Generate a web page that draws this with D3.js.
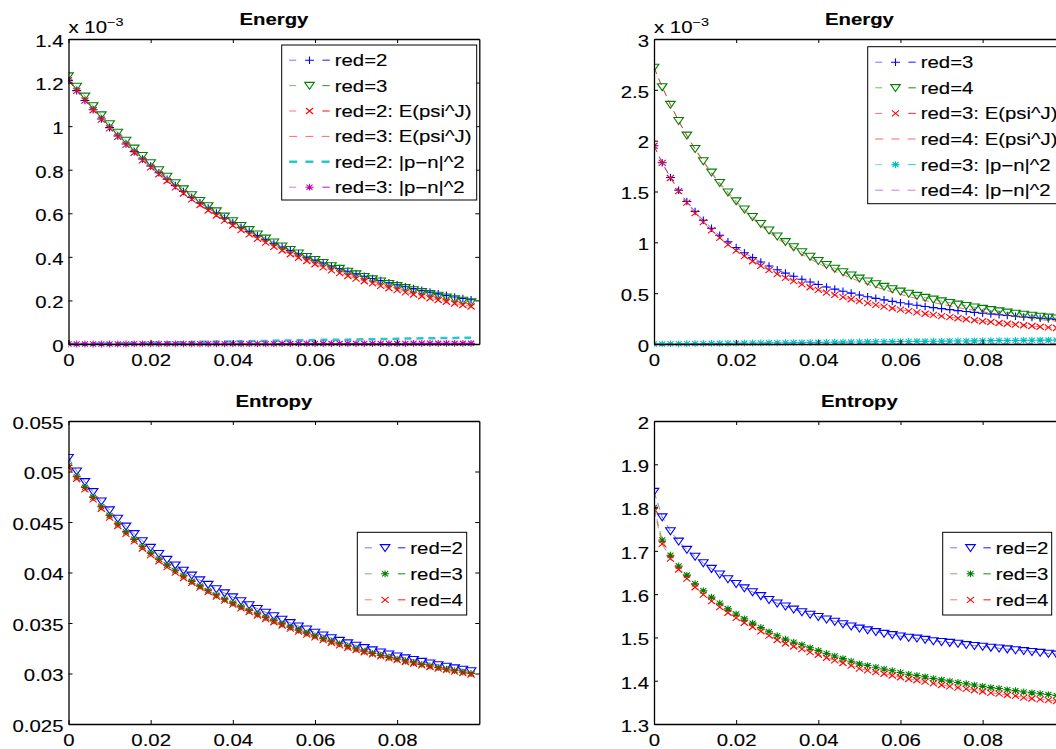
<!DOCTYPE html>
<html><head><meta charset="utf-8">
<script src="https://cdn.jsdelivr.net/npm/d3@7"></script>
<style>
body{margin:0;background:#fff}
svg{display:block}
text{font-family:"Liberation Sans",Arial,Helvetica,sans-serif;fill:#000;stroke:#000;stroke-width:0.12px}
</style>
</head><body>
<svg id="chart" width="1056" height="749"></svg>
<script>
// ---------- data ----------
const xValues = [0.000,0.002,0.004,0.006,0.008,0.010,0.012,0.014,0.016,0.018,0.020,0.022,0.024,0.026,0.028,0.030,0.032,0.034,0.036,0.038,0.040,0.042,0.044,0.046,0.048,0.050,0.052,0.054,0.056,0.058,0.060,0.062,0.064,0.066,0.068,0.070,0.072,0.074,0.076,0.078,0.080,0.082,0.084,0.086,0.088,0.090,0.092,0.094,0.096,0.098];
const xTicks = [0, 0.02, 0.04, 0.06, 0.08];
const xTickLabels = ["0", "0.02", "0.04", "0.06", "0.08"];

// Top-left: Energy (x 10^-3)
const tlRed2 = [1.210,1.163,1.118,1.075,1.033,0.993,0.955,0.918,0.883,0.849,0.817,0.786,0.756,0.727,0.700,0.673,0.648,0.624,0.601,0.578,0.557,0.536,0.517,0.498,0.480,0.462,0.445,0.429,0.414,0.399,0.385,0.372,0.358,0.346,0.334,0.322,0.311,0.301,0.291,0.281,0.272,0.263,0.254,0.246,0.238,0.230,0.223,0.216,0.209,0.203];
const tlRed3 = [1.230,1.182,1.137,1.093,1.051,1.010,0.971,0.934,0.898,0.864,0.831,0.799,0.769,0.739,0.711,0.684,0.658,0.634,0.610,0.586,0.565,0.543,0.524,0.504,0.485,0.467,0.449,0.433,0.417,0.401,0.387,0.373,0.358,0.346,0.333,0.321,0.309,0.298,0.288,0.277,0.267,0.258,0.248,0.240,0.231,0.223,0.215,0.207,0.200,0.193];
const tlRed2E = [1.210,1.162,1.117,1.073,1.030,0.990,0.951,0.914,0.878,0.843,0.811,0.779,0.748,0.719,0.691,0.664,0.638,0.613,0.590,0.566,0.544,0.523,0.503,0.483,0.465,0.446,0.429,0.412,0.396,0.381,0.366,0.352,0.338,0.325,0.312,0.300,0.288,0.278,0.267,0.256,0.247,0.237,0.227,0.219,0.210,0.202,0.194,0.186,0.179,0.172];
const tlRed3E = [1.220,1.172,1.127,1.083,1.041,1.000,0.961,0.924,0.888,0.854,0.821,0.789,0.759,0.729,0.701,0.674,0.648,0.624,0.600,0.576,0.555,0.533,0.514,0.494,0.475,0.457,0.439,0.423,0.407,0.391,0.377,0.363,0.348,0.336,0.323,0.311,0.299,0.288,0.278,0.267,0.257,0.248,0.238,0.230,0.221,0.213,0.205,0.197,0.190,0.183];
const tlRed2PN = [0.000,0.001,0.001,0.002,0.002,0.003,0.004,0.004,0.005,0.005,0.006,0.007,0.007,0.008,0.008,0.009,0.010,0.010,0.011,0.011,0.012,0.013,0.013,0.014,0.014,0.015,0.016,0.016,0.017,0.017,0.018,0.019,0.019,0.020,0.020,0.021,0.022,0.022,0.023,0.023,0.024,0.025,0.025,0.026,0.026,0.027,0.028,0.028,0.029,0.029];
const tlRed3PN = [0.000,0.000,0.000,0.000,0.000,0.000,0.000,0.000,0.001,0.001,0.001,0.001,0.001,0.001,0.001,0.001,0.001,0.001,0.001,0.001,0.001,0.001,0.001,0.001,0.001,0.001,0.002,0.002,0.002,0.002,0.002,0.002,0.002,0.002,0.002,0.002,0.002,0.002,0.002,0.002,0.002,0.002,0.003,0.003,0.003,0.003,0.003,0.003,0.003,0.003];
const tlYTicks = [0, 0.2, 0.4, 0.6, 0.8, 1, 1.2, 1.4];
const tlLegend = ["red=2", "red=3", "red=2: E(psi^J)", "red=3: E(psi^J)", "red=2: |p\u2212n|^2", "red=3: |p\u2212n|^2"];

// Top-right: Energy (x 10^-3)
const trRed3 = [1.950,1.783,1.638,1.512,1.401,1.303,1.217,1.139,1.069,1.006,0.949,0.897,0.850,0.807,0.767,0.731,0.697,0.666,0.637,0.610,0.585,0.561,0.540,0.519,0.500,0.482,0.465,0.449,0.434,0.419,0.406,0.393,0.381,0.369,0.358,0.348,0.338,0.328,0.319,0.311,0.302,0.295,0.287,0.280,0.273,0.266,0.260,0.254,0.248,0.242];
const trRed4 = [2.720,2.529,2.355,2.197,2.053,1.921,1.800,1.689,1.587,1.493,1.406,1.326,1.252,1.183,1.119,1.060,1.005,0.954,0.906,0.861,0.819,0.780,0.743,0.709,0.676,0.646,0.617,0.590,0.565,0.541,0.518,0.497,0.476,0.457,0.439,0.422,0.406,0.390,0.376,0.362,0.348,0.336,0.324,0.312,0.301,0.291,0.281,0.271,0.262,0.254];
const trRed3E = [1.950,1.781,1.633,1.504,1.390,1.288,1.199,1.117,1.044,0.978,0.918,0.864,0.814,0.768,0.726,0.688,0.651,0.618,0.587,0.558,0.532,0.506,0.483,0.461,0.440,0.421,0.402,0.385,0.368,0.352,0.338,0.324,0.311,0.298,0.286,0.274,0.264,0.253,0.243,0.234,0.224,0.216,0.207,0.199,0.192,0.184,0.177,0.170,0.164,0.157];
const trRed4E = [2.720,2.528,2.353,2.193,2.047,1.914,1.791,1.678,1.574,1.479,1.390,1.309,1.234,1.164,1.099,1.038,0.982,0.931,0.882,0.836,0.793,0.754,0.716,0.682,0.648,0.618,0.588,0.561,0.536,0.511,0.488,0.467,0.446,0.427,0.409,0.391,0.375,0.359,0.345,0.331,0.317,0.305,0.293,0.281,0.270,0.260,0.250,0.240,0.232,0.224];
const trRed3PN = [0.000,0.001,0.002,0.002,0.003,0.004,0.005,0.006,0.006,0.007,0.008,0.009,0.010,0.010,0.011,0.012,0.013,0.014,0.014,0.015,0.016,0.017,0.018,0.018,0.019,0.020,0.021,0.022,0.022,0.023,0.024,0.025,0.026,0.026,0.027,0.028,0.029,0.030,0.030,0.031,0.032,0.033,0.034,0.034,0.035,0.036,0.037,0.038,0.038,0.039];
const trRed4PN = [0.000,0.000,0.000,0.000,0.000,0.000,0.001,0.001,0.001,0.001,0.001,0.001,0.001,0.001,0.001,0.001,0.001,0.001,0.001,0.002,0.002,0.002,0.002,0.002,0.002,0.002,0.002,0.002,0.002,0.002,0.003,0.003,0.003,0.003,0.003,0.003,0.003,0.003,0.003,0.003,0.003,0.003,0.004,0.004,0.004,0.004,0.004,0.004,0.004,0.004];
const trYTicks = [0, 0.5, 1, 1.5, 2, 2.5, 3];
const trLegend = ["red=3", "red=4", "red=3: E(psi^J)", "red=4: E(psi^J)", "red=3: |p\u2212n|^2", "red=4: |p\u2212n|^2"];

// Bottom-left: Entropy
const blRed2 = [0.05137,0.05003,0.04898,0.04799,0.04706,0.04618,0.04535,0.04457,0.04383,0.04313,0.04247,0.04186,0.04128,0.04073,0.04021,0.03972,0.03925,0.03880,0.03837,0.03796,0.03757,0.03718,0.03679,0.03642,0.03605,0.03570,0.03535,0.03502,0.03469,0.03438,0.03407,0.03379,0.03352,0.03326,0.03301,0.03277,0.03254,0.03232,0.03211,0.03191,0.03172,0.03153,0.03136,0.03118,0.03102,0.03085,0.03070,0.03054,0.03040,0.03025];
const blRed3 = [0.05060,0.04948,0.04843,0.04744,0.04651,0.04563,0.04480,0.04402,0.04328,0.04258,0.04192,0.04131,0.04073,0.04018,0.03966,0.03912,0.03865,0.03820,0.03777,0.03736,0.03697,0.03660,0.03624,0.03589,0.03555,0.03522,0.03490,0.03459,0.03429,0.03400,0.03372,0.03345,0.03319,0.03294,0.03270,0.03242,0.03220,0.03199,0.03179,0.03160,0.03142,0.03124,0.03107,0.03090,0.03074,0.03058,0.03043,0.03028,0.03014,0.03000];
const blRed4 = [0.05040,0.04928,0.04823,0.04724,0.04631,0.04543,0.04460,0.04382,0.04308,0.04238,0.04172,0.04111,0.04053,0.03998,0.03946,0.03897,0.03850,0.03805,0.03762,0.03721,0.03682,0.03645,0.03609,0.03574,0.03540,0.03507,0.03475,0.03444,0.03414,0.03385,0.03357,0.03330,0.03304,0.03279,0.03255,0.03232,0.03210,0.03189,0.03169,0.03150,0.03132,0.03114,0.03097,0.03080,0.03064,0.03048,0.03033,0.03018,0.03004,0.02990];
const blYTicks = [0.025, 0.03, 0.035, 0.04, 0.045, 0.05, 0.055];
const blYTickLabels = ["0.025", "0.03", "0.035", "0.04", "0.045", "0.05", "0.055"];

// Bottom-right: Entropy
const brRed2 = [1.837,1.778,1.746,1.722,1.703,1.687,1.672,1.659,1.646,1.635,1.624,1.614,1.605,1.596,1.587,1.579,1.572,1.565,1.559,1.553,1.548,1.542,1.537,1.531,1.526,1.521,1.517,1.513,1.509,1.506,1.503,1.500,1.498,1.495,1.492,1.490,1.488,1.486,1.483,1.481,1.479,1.477,1.475,1.473,1.471,1.469,1.467,1.465,1.463,1.461];
const brRed3 = [1.800,1.725,1.690,1.665,1.644,1.624,1.608,1.593,1.579,1.566,1.554,1.543,1.533,1.523,1.513,1.504,1.496,1.489,1.483,1.476,1.470,1.463,1.457,1.451,1.445,1.439,1.435,1.431,1.427,1.423,1.419,1.415,1.412,1.409,1.405,1.402,1.399,1.396,1.393,1.390,1.387,1.384,1.382,1.379,1.377,1.374,1.372,1.370,1.368,1.366];
const brRed4 = [1.795,1.716,1.682,1.657,1.636,1.616,1.599,1.584,1.570,1.557,1.545,1.534,1.524,1.514,1.504,1.494,1.486,1.479,1.473,1.466,1.460,1.453,1.447,1.441,1.435,1.428,1.424,1.420,1.416,1.412,1.408,1.404,1.401,1.398,1.394,1.390,1.387,1.384,1.381,1.378,1.375,1.372,1.370,1.367,1.365,1.361,1.359,1.357,1.355,1.353];
const brYTicks = [1.3, 1.4, 1.5, 1.6, 1.7, 1.8, 1.9, 2];
const entropyLegend = ["red=2", "red=3", "red=4"];

// ---------- styling ----------
const C = {blue:"#0000ff", green:"#008000", red:"#ff0000", cyan:"#00bfbf", magenta:"#bf00bf"};
const FONT = 16.3, SX = 1.25;

const svg = d3.select("#chart");

function stretchedText(g, x, y, str, anchor, opts = {}) {
  const t = g.append("text")
    .attr("transform", `translate(${x},${y}) scale(${SX},1)`)
    .attr("text-anchor", anchor)
    .style("font-size", (opts.size || FONT) + "px")
    .style("font-weight", opts.bold ? "bold" : "normal")
    .text(str);
  return t;
}

function markerPath(type, cx, cy) {
  switch (type) {
    case "plus": return `M${cx-4.5},${cy}H${cx+4.5}M${cx},${cy-3.8}V${cy+3.8}`;
    case "tri": return `M${cx-4.8},${cy-3.2}L${cx+4.8},${cy-3.2}L${cx},${cy+3.8}Z`;
    case "x": return `M${cx-3.6},${cy-3}L${cx+3.6},${cy+3}M${cx-3.6},${cy+3}L${cx+3.6},${cy-3}`;
    case "star": return `M${cx-4},${cy}H${cx+4}M${cx},${cy-3.4}V${cy+3.4}M${cx-3},${cy-2.6}L${cx+3},${cy+2.6}M${cx-3},${cy+2.6}L${cx+3},${cy-2.6}`;
  }
  return "";
}

function drawPanel(p) {
  const g = svg.append("g");
  const x = d3.scaleLinear().domain([0, 0.1]).range([p.x0, p.x1]);
  const y = d3.scaleLinear().domain(p.yDomain).range([p.y1, p.y0]);

  const clipId = "clip" + p.id;
  svg.append("clipPath").attr("id", clipId).append("rect")
    .attr("x", p.x0).attr("y", p.y0 - 6).attr("width", p.x1 - p.x0).attr("height", p.y1 - p.y0 + 12);

  const plot = g.append("g").attr("clip-path", `url(#${clipId})`);
  const line = d3.line().x((d, i) => x(xValues[i])).y(d => y(d));

  p.series.forEach(s => {
    plot.append("path").datum(s.values)
      .attr("d", line)
      .attr("fill", "none")
      .attr("stroke", s.color)
      .attr("stroke-width", s.width || 1)
      .attr("stroke-opacity", s.lineOpacity || 0.55)
      .attr("stroke-dasharray", "7,5");
    if (s.marker) {
      plot.append("g").selectAll("path").data(s.values).join("path")
        .attr("d", (d, i) => markerPath(s.marker, x(xValues[i]), y(d)))
        .attr("fill", "none")
        .attr("stroke", s.color)
        .attr("stroke-width", 1.1);
    }
  });

  // axes (MATLAB style box with inward ticks)
  const axB = g.append("g").attr("transform", `translate(0,${p.y1})`)
    .call(d3.axisBottom(x).tickValues(xTicks).tickSize(-4).tickSizeOuter(0).tickPadding(10).tickFormat((d, i) => xTickLabels[i]));
  const axT = g.append("g").attr("transform", `translate(0,${p.y0})`)
    .call(d3.axisTop(x).tickValues(xTicks).tickSize(-4).tickSizeOuter(0).tickFormat(""));
  const axL = g.append("g").attr("transform", `translate(${p.x0},0)`)
    .call(d3.axisLeft(y).tickValues(p.yTicks).tickSize(-4).tickSizeOuter(0).tickPadding(6).tickFormat((d, i) => p.yLabels[i]));
  const axR = g.append("g").attr("transform", `translate(${p.x1},0)`)
    .call(d3.axisRight(y).tickValues(p.yTicks).tickSize(-4).tickSizeOuter(0).tickFormat(""));
  [axB, axT, axL, axR].forEach(a => {
    a.select(".domain").attr("stroke", "#000").attr("stroke-width", 1.3);
    a.selectAll(".tick line").attr("stroke", "#000").attr("stroke-width", 1);
  });
  axB.selectAll(".tick text")
    .attr("y", null).attr("dy", null)
    .attr("transform", `translate(0,21.5) scale(${SX},1)`)
    .style("font-size", FONT + "px").style("font-family", "'Liberation Sans',Arial,sans-serif").attr("fill", "#000");
  axL.selectAll(".tick text")
    .attr("x", null).attr("dy", null)
    .attr("transform", `translate(-5,7.3) scale(${SX},1)`)
    .style("font-size", FONT + "px").style("font-family", "'Liberation Sans',Arial,sans-serif").attr("fill", "#000");

  // title
  stretchedText(g, (p.x0 + p.x1) / 2, p.titleY, p.title, "middle", {bold: true});

  // exponent label
  if (p.exponent) {
    const t = stretchedText(g, p.x0, p.y0 - 5.7, "x 10", "start");
    t.append("tspan").attr("dy", -7.5).style("font-size", "11.5px").text(p.exponent);
  }

  // legend
  const L = p.legend;
  const lg = g.append("g");
  lg.append("rect").attr("x", L.x).attr("y", L.y).attr("width", L.w).attr("height", L.h)
    .attr("fill", "#fff").attr("stroke", "#000").attr("stroke-width", 1);
  p.series.forEach((s, i) => {
    const cy = L.y + L.first + i * L.gap;
    lg.append("line").attr("x1", L.x + 7.5).attr("x2", L.x + 48).attr("y1", cy).attr("y2", cy)
      .attr("stroke", s.color).attr("stroke-width", s.width || 1)
      .attr("stroke-opacity", s.lineOpacity || 0.55)
      .attr("stroke-dasharray", s.marker ? "7,26.5" : "8,8.2");
    if (s.marker) {
      lg.append("line").attr("x1", L.x + 40.5).attr("x2", L.x + 48).attr("y1", cy).attr("y2", cy)
        .attr("stroke", s.color).attr("stroke-width", s.width || 1).attr("stroke-opacity", s.lineOpacity || 0.55);
      lg.append("path").attr("d", markerPath(s.marker, L.x + 27.8, cy))
        .attr("fill", "none").attr("stroke", s.color).attr("stroke-width", 1.1);
    }
    stretchedText(lg, L.x + 53, cy + 5.9, p.legendLabels[i], "start");
  });
}

const LX0 = 68.5, LX1 = 479.3, RX0 = 654, RX1 = 1064.8;
const TY0 = 39, TY1 = 344, BY0 = 421, BY1 = 724;

drawPanel({
  id: "tl", x0: LX0, x1: LX1, y0: TY0, y1: TY1, yDomain: [0, 1.4],
  yTicks: tlYTicks, yLabels: tlYTicks.map(String), title: "Energy", titleY: 24.5, exponent: "\u22123",
  series: [
    {values: tlRed2, color: C.blue, marker: "plus"},
    {values: tlRed3, color: C.green, marker: "tri"},
    {values: tlRed2E, color: C.red, marker: "x"},
    {values: tlRed3E, color: C.red, lineOpacity: 0.6},
    {values: tlRed2PN, color: C.cyan, width: 2.5, lineOpacity: 0.85},
    {values: tlRed3PN, color: C.magenta, marker: "star"}
  ],
  legendLabels: tlLegend,
  legend: {x: 281.7, y: 45, w: 195, h: 155, first: 15.2, gap: 25.4}
});

drawPanel({
  id: "tr", x0: RX0, x1: RX1, y0: TY0, y1: TY1, yDomain: [0, 3],
  yTicks: trYTicks, yLabels: trYTicks.map(String), title: "Energy", titleY: 24.5, exponent: "\u22123",
  series: [
    {values: trRed3, color: C.blue, marker: "plus"},
    {values: trRed4, color: C.green, marker: "tri"},
    {values: trRed3E, color: C.red, marker: "x"},
    {values: trRed4E, color: C.red, lineOpacity: 0.6},
    {values: trRed3PN, color: C.cyan, marker: "star"},
    {values: trRed4PN, color: C.magenta}
  ],
  legendLabels: trLegend,
  legend: {x: 867.7, y: 46.7, w: 200, h: 157, first: 15.5, gap: 25.6}
});

drawPanel({
  id: "bl", x0: LX0, x1: LX1, y0: BY0, y1: BY1, yDomain: [0.025, 0.055],
  yTicks: blYTicks, yLabels: blYTickLabels, title: "Entropy", titleY: 406.7,
  series: [
    {values: blRed2, color: C.blue, marker: "tri"},
    {values: blRed3, color: C.green, marker: "star"},
    {values: blRed4, color: C.red, marker: "x"}
  ],
  legendLabels: entropyLegend,
  legend: {x: 357.3, y: 532.3, w: 109.4, h: 82.7, first: 15.5, gap: 26}
});

drawPanel({
  id: "br", x0: RX0, x1: RX1, y0: BY0, y1: BY1, yDomain: [1.3, 2],
  yTicks: brYTicks, yLabels: brYTicks.map(String), title: "Entropy", titleY: 406.7,
  series: [
    {values: brRed2, color: C.blue, marker: "tri"},
    {values: brRed3, color: C.green, marker: "star"},
    {values: brRed4, color: C.red, marker: "x"}
  ],
  legendLabels: entropyLegend,
  legend: {x: 942.7, y: 532.3, w: 109, h: 82.7, first: 15.5, gap: 26}
});
</script>
</body></html>
